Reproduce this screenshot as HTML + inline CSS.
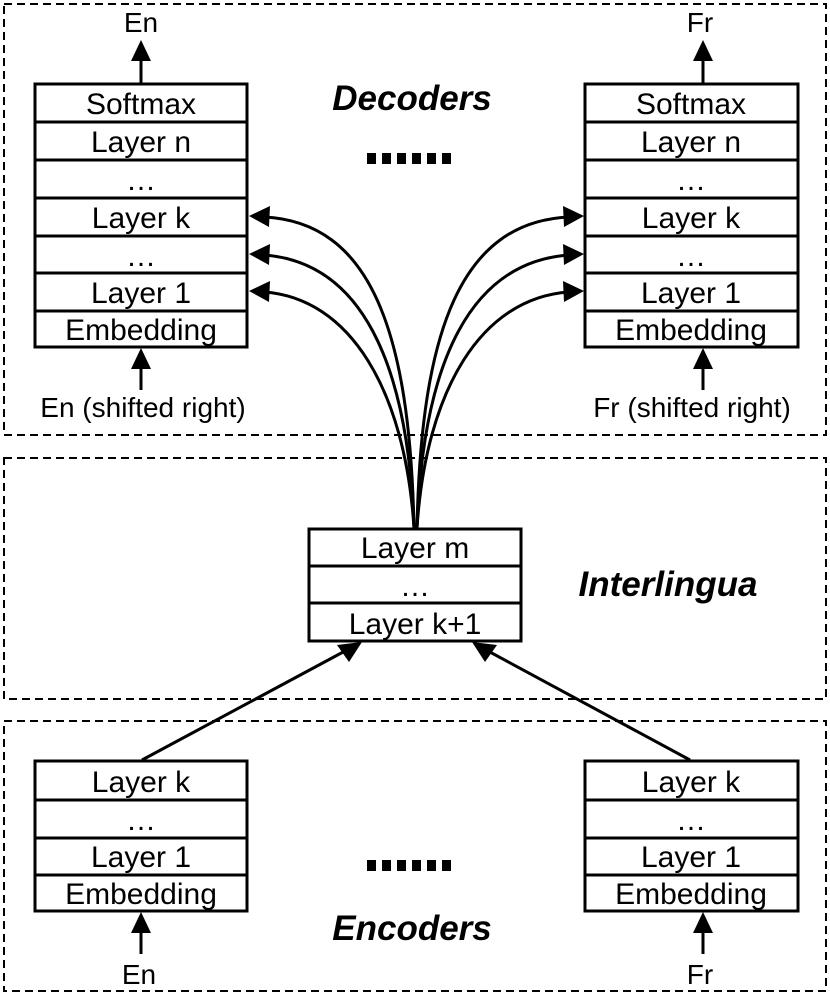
<!DOCTYPE html>
<html><head><meta charset="utf-8"><style>
html,body{margin:0;padding:0;background:#fff;}
svg{display:block;}
text{font-family:"Liberation Sans",Arial,sans-serif;fill:#000;}
</style></head><body>
<svg width="830" height="994" viewBox="0 0 830 994" xmlns="http://www.w3.org/2000/svg">
<g fill="none" stroke="#000" stroke-width="2" stroke-dasharray="8,5">
<rect x="4" y="4" width="822" height="431"/>
<rect x="4" y="458" width="822" height="241"/>
<rect x="4" y="721" width="822" height="270"/>
</g>
<g fill="none" stroke="#000" stroke-width="3">
<rect x="35" y="84" width="212" height="263"/>
<line x1="35" y1="122" x2="247" y2="122"/><line x1="35" y1="160" x2="247" y2="160"/>
<line x1="35" y1="198" x2="247" y2="198"/><line x1="35" y1="236" x2="247" y2="236"/>
<line x1="35" y1="273" x2="247" y2="273"/><line x1="35" y1="311" x2="247" y2="311"/>
<rect x="585" y="84" width="213" height="263"/>
<line x1="585" y1="122" x2="798" y2="122"/><line x1="585" y1="160" x2="798" y2="160"/>
<line x1="585" y1="198" x2="798" y2="198"/><line x1="585" y1="236" x2="798" y2="236"/>
<line x1="585" y1="273" x2="798" y2="273"/><line x1="585" y1="311" x2="798" y2="311"/>
<rect x="309" y="529" width="212" height="112"/>
<line x1="309" y1="566" x2="521" y2="566"/><line x1="309" y1="603" x2="521" y2="603"/>
<rect x="35" y="761" width="212" height="150"/>
<line x1="35" y1="800" x2="247" y2="800"/><line x1="35" y1="838" x2="247" y2="838"/><line x1="35" y1="875" x2="247" y2="875"/>
<rect x="585" y="761" width="213" height="150"/>
<line x1="585" y1="800" x2="798" y2="800"/><line x1="585" y1="838" x2="798" y2="838"/><line x1="585" y1="875" x2="798" y2="875"/>
<line x1="141" y1="83" x2="141" y2="58"/><line x1="703" y1="83" x2="703" y2="58"/>
<line x1="141" y1="390" x2="141" y2="365"/><line x1="703" y1="390" x2="703" y2="365"/>
<line x1="141" y1="954" x2="141" y2="928"/><line x1="703" y1="954" x2="703" y2="928"/>
<line x1="142" y1="760" x2="345" y2="651"/>
<line x1="690" y1="760" x2="488" y2="651"/>
<path d="M414 528 C410 330 370 222 264 217"/>
<path d="M414 528 C408 360 360 262 264 255"/>
<path d="M414 528 C405 390 350 298 264 292"/>
<path d="M417 528 C421 330 461 222 569 217"/>
<path d="M417 528 C423 360 471 262 569 255"/>
<path d="M417 528 C426 390 481 298 569 292"/>
</g>
<g fill="#000">
<polygon points="141,40 131,61 151,61"/><polygon points="703,40 693,61 713,61"/>
<polygon points="141,348 131,369 151,369"/><polygon points="703,348 693,369 713,369"/>
<polygon points="141,912 131,933 151,933"/><polygon points="703,912 693,933 713,933"/>
<polygon points="249,216 270,206 269,227"/><polygon points="249,254 270,244 269,265"/><polygon points="249,291 270,281 269,302"/>
<polygon points="584,216 563,206 564,227"/><polygon points="584,254 563,244 564,265"/><polygon points="584,291 563,281 564,302"/>
<polygon points="362,642 337,645 349,662"/><polygon points="472,642 497,645 485,662"/>
</g>
<g font-size="30" text-anchor="middle">
<text x="141" y="114">Softmax</text><text x="141" y="152">Layer n</text><text x="141" y="190">…</text>
<text x="141" y="228">Layer k</text><text x="141" y="266">…</text><text x="141" y="303">Layer 1</text><text x="141" y="340">Embedding</text>
<text x="691" y="114">Softmax</text><text x="691" y="152">Layer n</text><text x="691" y="190">…</text>
<text x="691" y="228">Layer k</text><text x="691" y="266">…</text><text x="691" y="303">Layer 1</text><text x="691" y="340">Embedding</text>
<text x="415" y="558">Layer m</text><text x="415" y="596">…</text><text x="415" y="634">Layer k+1</text>
<text x="141" y="792">Layer k</text><text x="141" y="830">…</text><text x="141" y="867">Layer 1</text><text x="141" y="904">Embedding</text>
<text x="691" y="792">Layer k</text><text x="691" y="830">…</text><text x="691" y="867">Layer 1</text><text x="691" y="904">Embedding</text>
</g>
<g font-size="28" text-anchor="middle">
<text x="143" y="417">En (shifted right)</text><text x="692" y="417">Fr (shifted right)</text>
<text x="141" y="32">En</text><text x="700" y="32">Fr</text>
<text x="139" y="984">En</text><text x="700" y="984">Fr</text>
</g>
<g font-size="35" font-weight="bold" font-style="italic" text-anchor="middle">
<text x="412" y="110">Decoders</text>
<text x="668" y="596">Interlingua</text>
<text x="412" y="940">Encoders</text>
</g>
<g fill="#000">
<rect x="367" y="153" width="9" height="11"/><rect x="382" y="153" width="9" height="11"/><rect x="397" y="153" width="9" height="11"/>
<rect x="412" y="153" width="9" height="11"/><rect x="427" y="153" width="9" height="11"/><rect x="442" y="153" width="9" height="11"/>
<rect x="367" y="860" width="9" height="11"/><rect x="382" y="860" width="9" height="11"/><rect x="397" y="860" width="9" height="11"/>
<rect x="412" y="860" width="9" height="11"/><rect x="427" y="860" width="9" height="11"/><rect x="442" y="860" width="9" height="11"/>
</g>
</svg>
</body></html>
